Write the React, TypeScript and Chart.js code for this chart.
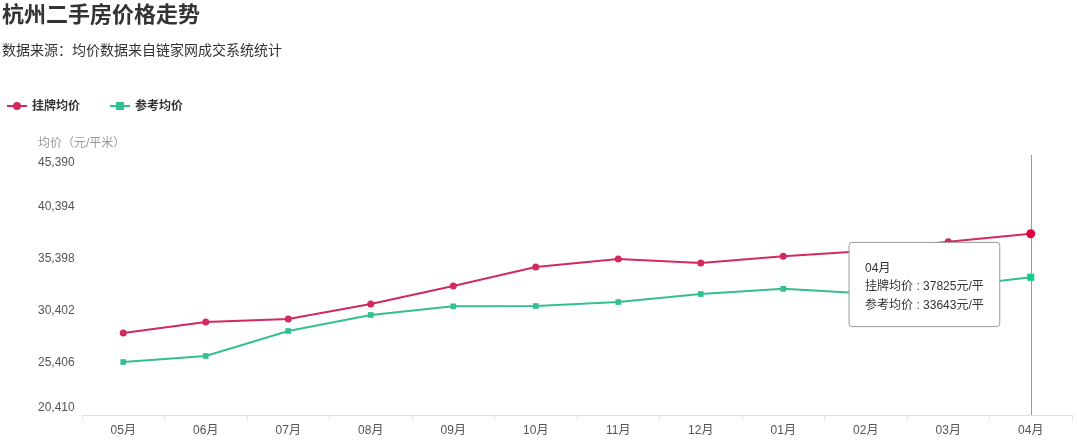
import { useEffect, useRef } from 'react'
import { Chart, registerables, Tooltip } from 'chart.js'

Chart.register(...registerables)

const months = ['05月', '06月', '07月', '08月', '09月', '10月', '11月', '12月', '01月', '02月', '03月', '04月']
const listingPrice = [28290, 29350, 29630, 31080, 32800, 34620, 35400, 35010, 35660, 36170, 37050, 37825]
const referencePrice = [25500, 26080, 28480, 30020, 30850, 30880, 31260, 32030, 32530, 32090, 32700, 33643]
const yMin = 20410
const yMax = 45390
const yStep = 4996

const RED = '#d12a5c'
const GREEN = '#33c08f'
const FONT = '"Liberation Sans", "Noto Sans CJK SC", sans-serif'

// tooltip sits left of the hovered point, a bit below the middle of the two values
;(Tooltip.positioners as any).leftOfPoint = function (items: any[]) {
  if (!items.length) return false
  const ys = items.map((i) => i.element.y)
  return { x: items[0].element.x, y: (Math.min(...ys) + Math.max(...ys)) / 2 + 29 }
}

const crosshair = {
  id: 'crosshair',
  beforeDatasetsDraw(chart: any) {
    const active = chart.tooltip?.getActiveElements?.() || []
    if (!active.length) return
    const x = active[0].element.x
    const { top, bottom } = chart.chartArea
    const ctx = chart.ctx
    ctx.save()
    ctx.strokeStyle = '#9a9a9a'
    ctx.lineWidth = 1
    ctx.beginPath()
    ctx.moveTo(Math.round(x) + 0.5, top)
    ctx.lineTo(Math.round(x) + 0.5, bottom)
    ctx.stroke()
    ctx.restore()
  }
}

const axisTitle = {
  id: 'axisTitle',
  afterDraw(chart: any) {
    const ctx = chart.ctx
    ctx.save()
    ctx.font = `12px ${FONT}`
    ctx.fillStyle = '#9b9b9b'
    ctx.textBaseline = 'middle'
    ctx.textAlign = 'left'
    ctx.fillText('均价（元/平米）', chart.scales.y.left, chart.chartArea.top - 11)
    ctx.restore()
  }
}

function Legend() {
  const item = (color: string, square: boolean, text: string) => (
    <div style={{ display: 'flex', alignItems: 'center', marginRight: 30 }}>
      <svg width={20} height={10} style={{ marginRight: 5 }}>
        <line x1={0} y1={5} x2={20} y2={5} stroke={color} strokeWidth={2} />
        {square
          ? <rect x={6} y={1} width={8} height={8} fill={color} />
          : <circle cx={10} cy={5} r={4} fill={color} />}
      </svg>
      <span>{text}</span>
    </div>
  )
  return (
    <div style={{
      position: 'absolute', left: 7, top: 98, display: 'flex',
      fontSize: 12, fontWeight: 'bold', color: '#333', lineHeight: '16px'
    }}>
      {item(RED, false, '挂牌均价')}
      {item(GREEN, true, '参考均价')}
    </div>
  )
}

export default function App() {
  const chartRef = useRef<HTMLCanvasElement>(null)
  const chartInstance = useRef<Chart<'line'> | null>(null)

  useEffect(() => {
    document.body.style.margin = '0'
    if (!chartRef.current) return
    if (chartInstance.current) chartInstance.current.destroy()
    const ctx = chartRef.current.getContext('2d')
    if (!ctx) return

    const chart = new Chart(ctx, {
      type: 'line',
      data: {
        labels: months,
        datasets: [
          {
            label: '挂牌均价',
            data: listingPrice,
            borderColor: RED,
            backgroundColor: RED,
            borderWidth: 2,
            pointStyle: 'circle',
            pointRadius: 3.5,
            pointHoverRadius: 4.5,
            pointBorderWidth: 0,
            pointHoverBorderWidth: 0,
            tension: 0
          },
          {
            label: '参考均价',
            data: referencePrice,
            borderColor: GREEN,
            backgroundColor: GREEN,
            borderWidth: 2,
            pointStyle: 'rect',
            pointRadius: 4,
            pointHoverRadius: 5,
            pointBorderWidth: 0,
            pointHoverBorderWidth: 0,
            tension: 0
          }
        ]
      },
      options: {
        animation: false,
        responsive: false,
        events: [],
        layout: { padding: { top: 155, left: 38, right: 5, bottom: 0 } },
        plugins: {
          legend: { display: false },
          tooltip: {
            enabled: true,
            position: 'leftOfPoint' as any,
            xAlign: 'right',
            yAlign: 'center',
            caretSize: 0,
            caretPadding: 31,
            backgroundColor: '#ffffff',
            borderColor: '#9a9a9a',
            borderWidth: 1,
            cornerRadius: 3,
            titleColor: '#333',
            bodyColor: '#333',
            titleFont: { family: FONT, size: 12, weight: 'normal' },
            bodyFont: { family: FONT, size: 12 },
            titleMarginBottom: 4,
            bodySpacing: 4,
            padding: { top: 19, bottom: 14, left: 16, right: 16 },
            displayColors: false,
            callbacks: {
              label: (item: any) => `${item.dataset.label} : ${item.raw}元/平`
            }
          }
        },
        scales: {
          x: {
            offset: true,
            afterFit: (scale: any) => { scale.height = 28 },
            grid: { offset: true, drawOnChartArea: false, tickLength: 6, color: '#e6e6e6' },
            border: { color: '#e0e0e0' },
            ticks: { color: '#555', font: { family: FONT, size: 12 }, padding: 2, maxRotation: 0 }
          },
          y: {
            min: yMin,
            max: yMax,
            afterFit: (scale: any) => { scale.width = 44 },
            grid: { display: false },
            border: { display: false },
            ticks: {
              stepSize: yStep,
              crossAlign: 'far',
              color: '#555',
              font: { family: FONT, size: 12 },
              callback: (value: any, index: number, ticks: any[]) => {
                const s = Number(value).toLocaleString('en-US')
                if (index === 0) return [s, '']
                if (index === ticks.length - 1) return ['', s]
                return s
              }
            }
          }
        }
      },
      plugins: [crosshair, axisTitle]
    })

    const last = months.length - 1
    const active = [{ datasetIndex: 0, index: last }, { datasetIndex: 1, index: last }]
    chart.setActiveElements(active)
    chart.tooltip?.setActiveElements(active, { x: 0, y: 0 })
    chart.update()
    chartInstance.current = chart

    return () => {
      if (chartInstance.current) {
        chartInstance.current.destroy()
        chartInstance.current = null
      }
    }
  }, [])

  return (
    <div style={{
      position: 'relative', width: 1077, height: 443, background: '#fff',
      fontFamily: FONT, overflow: 'hidden'
    }}>
      <canvas ref={chartRef} width={1077} height={443} style={{ position: 'absolute', left: 0, top: 0 }}></canvas>
      <div style={{ position: 'absolute', left: 2, top: 2, fontSize: 22, fontWeight: 'bold', color: '#333', lineHeight: '26px' }}>
        杭州二手房价格走势
      </div>
      <div style={{ position: 'absolute', left: 2, top: 40, fontSize: 14, color: '#333', lineHeight: '20px' }}>
        数据来源：均价数据来自链家网成交系统统计
      </div>
      <Legend />
    </div>
  )
}
